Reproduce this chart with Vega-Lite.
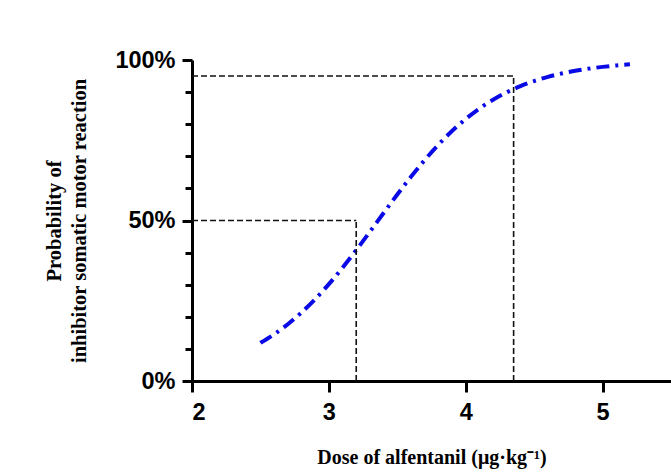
{
  "$schema": "https://vega.github.io/schema/vega-lite/v6.json",
  "width": 479,
  "height": 321,
  "autosize": {"type": "none"},
  "padding": {"left": 192, "top": 60, "right": 0, "bottom": 95},
  "background": "white",
  "config": {"view": {"stroke": null}},
  "datasets": {
    "curve": [
      {"dose": 2.5, "p": 0.1188}, {"dose": 2.6, "p": 0.1454}, {"dose": 2.7, "p": 0.1768},
      {"dose": 2.8, "p": 0.2133}, {"dose": 2.9, "p": 0.2550}, {"dose": 3.0, "p": 0.3017},
      {"dose": 3.1, "p": 0.3530}, {"dose": 3.2, "p": 0.4078}, {"dose": 3.3, "p": 0.4651},
      {"dose": 3.4, "p": 0.5232}, {"dose": 3.5, "p": 0.5808}, {"dose": 3.6, "p": 0.6362},
      {"dose": 3.7, "p": 0.6882}, {"dose": 3.8, "p": 0.7359}, {"dose": 3.9, "p": 0.7787},
      {"dose": 4.0, "p": 0.8163}, {"dose": 4.1, "p": 0.8488}, {"dose": 4.2, "p": 0.8762},
      {"dose": 4.3, "p": 0.8994}, {"dose": 4.4, "p": 0.9186}, {"dose": 4.5, "p": 0.9344},
      {"dose": 4.6, "p": 0.9473}, {"dose": 4.7, "p": 0.9578}, {"dose": 4.8, "p": 0.9663},
      {"dose": 4.9, "p": 0.9731}, {"dose": 5.0, "p": 0.9786}, {"dose": 5.1, "p": 0.9829},
      {"dose": 5.2, "p": 0.9864}
    ],
    "guides": [
      {"x": 2, "x2": 3.2, "y": 0.5, "y2": 0.5},
      {"x": 3.2, "x2": 3.2, "y": 0, "y2": 0.5},
      {"x": 2, "x2": 4.35, "y": 0.95, "y2": 0.95},
      {"x": 4.35, "x2": 4.35, "y": 0, "y2": 0.95}
    ]
  },
  "layer": [
    {
      "data": {"name": "curve"},
      "mark": {"type": "line", "color": "#0a0ae6", "strokeWidth": 4, "strokeDash": [13, 6, 3, 6], "interpolate": "monotone"},
      "encoding": {
        "x": {
          "field": "dose", "type": "quantitative",
          "scale": {"domain": [2, 5.5], "nice": false, "zero": false},
          "axis": {
            "values": [2, 3, 4, 5],
            "tickCount": 20,
            "format": "d",
            "title": "Dose of alfentanil (μg·kg⁻¹)",
            "titleFont": "Liberation Serif", "titleFontSize": 20, "titleFontWeight": "bold", "titleColor": "black",
            "titlePadding": 24,
            "labelFont": "Liberation Sans", "labelFontSize": 23.5, "labelFontWeight": "bold", "labelColor": "black",
            "labelPadding": 8, "labelOverlap": false,
            "domainColor": "black", "domainWidth": 3,
            "tickColor": "black", "tickWidth": 3, "tickSize": 11,
            "grid": false
          }
        },
        "y": {
          "field": "p", "type": "quantitative",
          "scale": {"domain": [0, 1], "nice": false},
          "axis": {
            "values": [0, 0.1, 0.2, 0.3, 0.4, 0.5, 0.6, 0.7, 0.8, 0.9, 1],
            "tickCount": 30,
            "format": ".0%",
            "labelExpr": "indexof(['0%', '50%', '100%'], datum.label) >= 0 ? datum.label : ''",
            "labelOverlap": false,
            "title": ["Probability of", "inhibitor somatic motor reaction"],
            "titleFont": "Liberation Serif", "titleFontSize": 20.5, "titleFontWeight": "bold", "titleColor": "black",
            "titlePadding": 25, "titleLineHeight": 25,
            "labelFont": "Liberation Sans", "labelFontSize": 23.5, "labelFontWeight": "bold", "labelColor": "black",
            "labelPadding": 7,
            "domainColor": "black", "domainWidth": 3,
            "tickColor": "black", "tickWidth": 3,
            "tickSize": {"condition": {"test": "datum.value == 0 || datum.value == 0.5 || datum.value == 1", "value": 10}, "value": 7},
            "grid": false
          }
        }
      }
    },
    {
      "data": {"name": "guides"},
      "mark": {"type": "rule", "color": "#111111", "strokeWidth": 1.6, "strokeDash": [6, 3]},
      "encoding": {
        "x": {"field": "x", "type": "quantitative"},
        "x2": {"field": "x2"},
        "y": {"field": "y", "type": "quantitative"},
        "y2": {"field": "y2"}
      }
    }
  ]
}
